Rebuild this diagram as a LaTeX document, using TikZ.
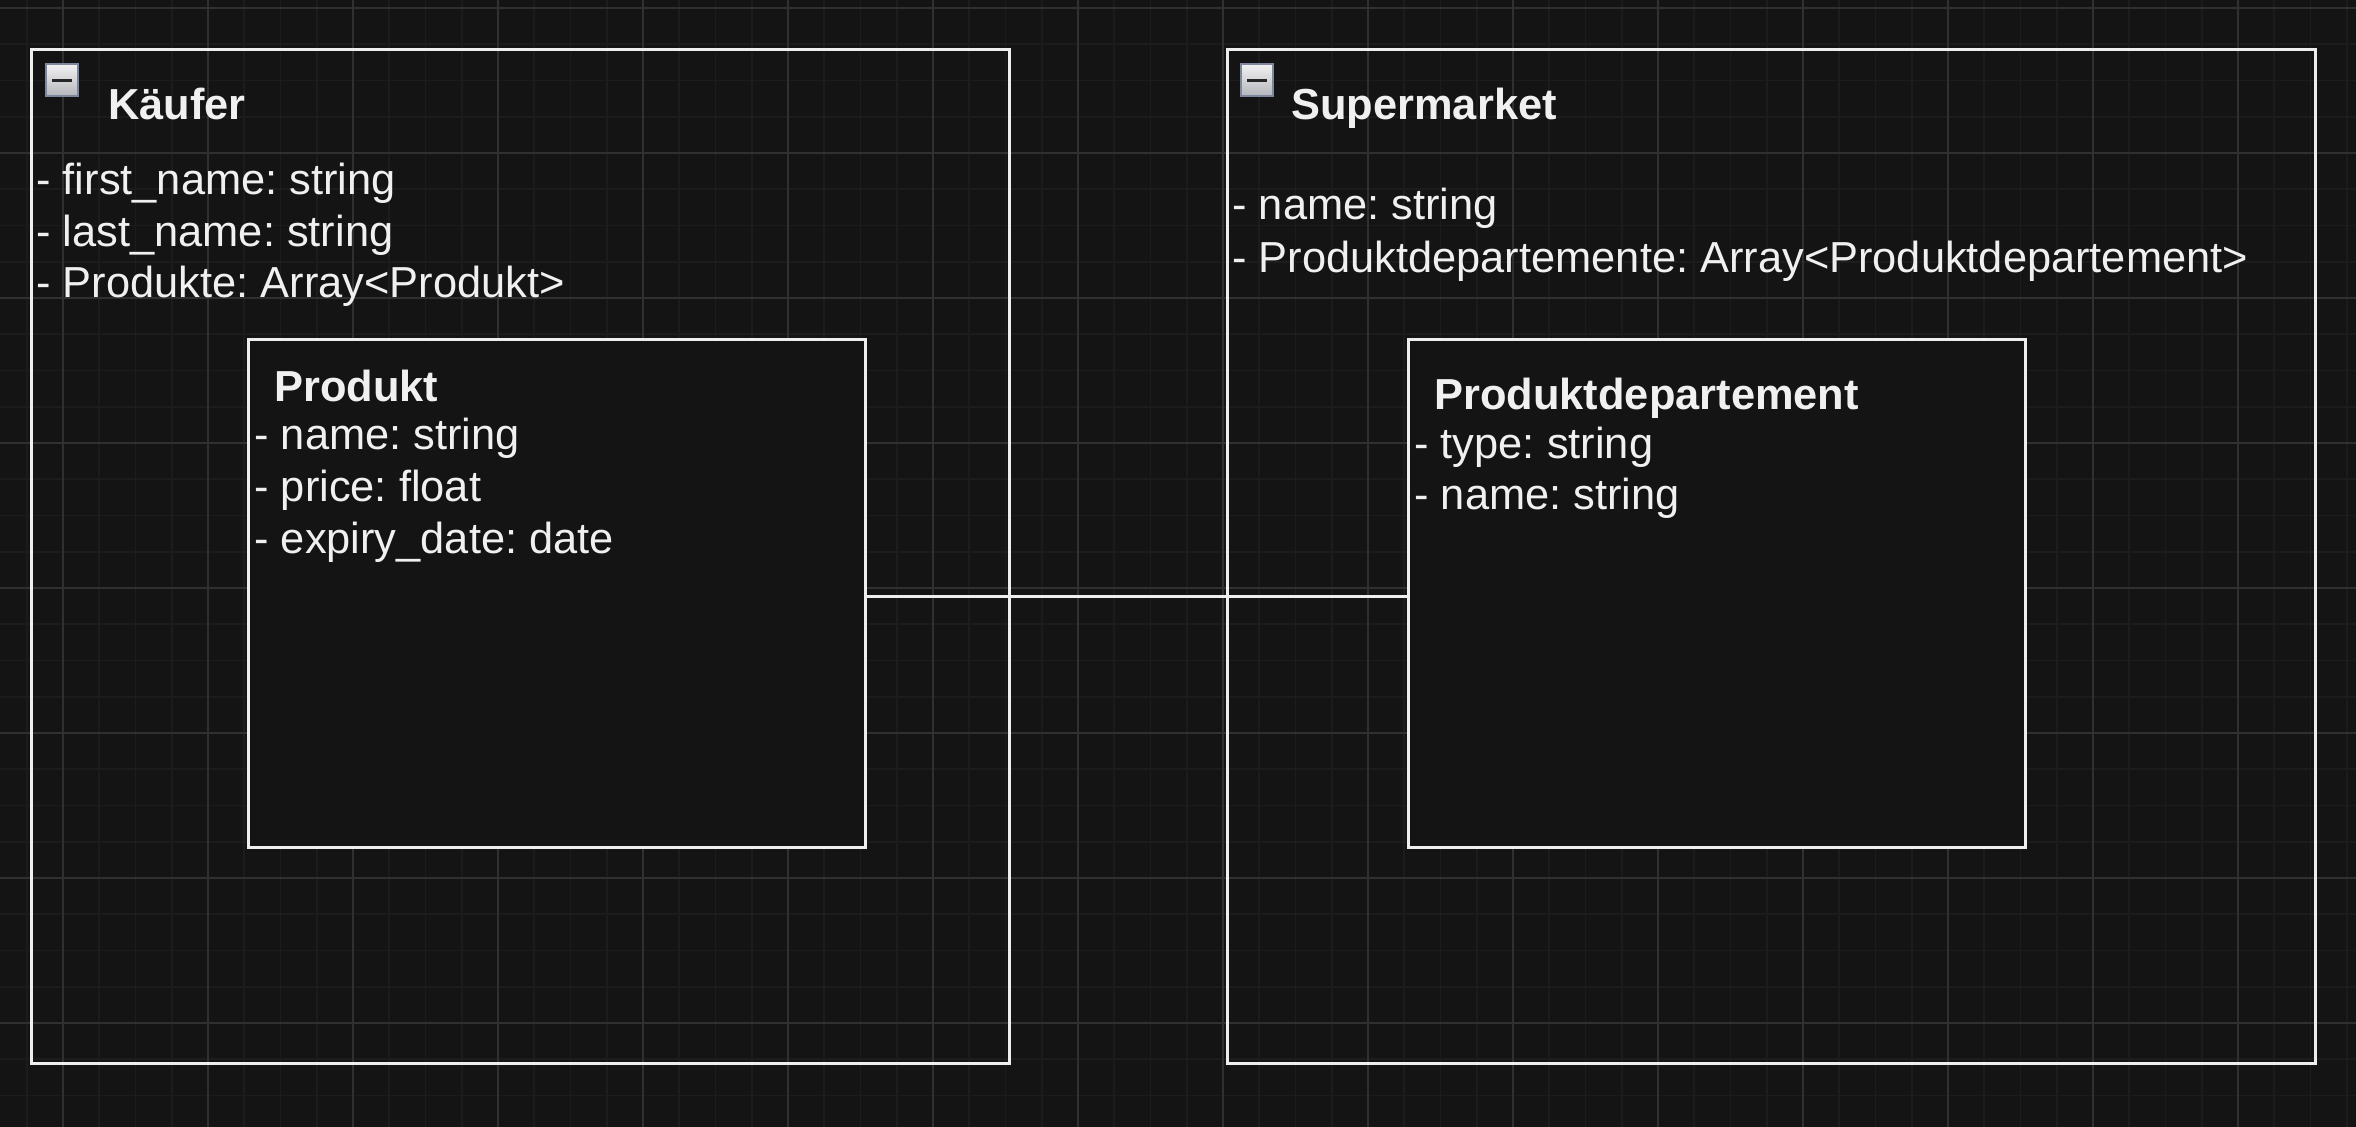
\documentclass[tikz,border=0pt]{standalone}
\usepackage{fontspec}
\setmainfont{Liberation Sans}
\begin{document}
\frenchspacing
\begin{tikzpicture}[x=0.5pt,y=-0.5pt,
  minorline/.style={draw=minorcol,line width=0.9pt},
  majorline/.style={draw=majorcol,line width=0.7pt},
  outerbox/.style={draw=strokecol,line width=1.5pt,rectangle,inner sep=0pt,anchor=north west},
  innerbox/.style={draw=strokecol,fill=bgcol,line width=1.5pt,rectangle,inner sep=0pt,anchor=north west},
  ttl/.style={text=textcol,inner sep=0pt,anchor=base west,font=\fontsize{21.7}{26}\selectfont\bfseries},
  attr/.style={text=textcol,inner sep=0pt,anchor=base west,font=\fontsize{21.7}{26}\selectfont},
  conn/.style={draw=strokecol,line width=1.5pt}
]
\definecolor{bgcol}{HTML}{141414}
\definecolor{minorcol}{HTML}{1C1C1C}
\definecolor{majorcol}{HTML}{303030}
\definecolor{strokecol}{HTML}{EEEEEE}
\definecolor{textcol}{HTML}{F0F0F0}
\definecolor{iconborder}{HTML}{7F879D}
\definecolor{icontop}{HTML}{F2F2F2}
\definecolor{iconbot}{HTML}{B4B6BC}

\useasboundingbox (0,0) rectangle (2356,1127);
\fill[bgcol] (0,0) rectangle (2356,1127);

% grid
\foreach \i in {-1,...,63} {\draw[minorline] ({63+36.25*\i},0) -- ({63+36.25*\i},1127);}
\foreach \i in {0,...,30} {\draw[minorline] (0,{8+36.25*\i}) -- (2356,{8+36.25*\i});}
\foreach \i in {0,...,15} {\draw[majorline] ({63+145*\i},0) -- ({63+145*\i},1127);}
\foreach \i in {0,...,7} {\draw[majorline] (0,{8+145*\i}) -- (2356,{8+145*\i});}

% containers
\node[outerbox,minimum width=489pt,minimum height=507pt] (kaeufer) at (30,48) {};
\node[outerbox,minimum width=544pt,minimum height=507pt] (supermarket) at (1226,48) {};

% collapse icons
\shade[top color=icontop,bottom color=iconbot,draw=iconborder,line width=1pt] (46,64) rectangle (78,96);
\draw[black!85,line width=1.8pt] (52,80.5) -- (72,80.5);
\shade[top color=icontop,bottom color=iconbot,draw=iconborder,line width=1pt] (1241,64) rectangle (1273,96);
\draw[black!85,line width=1.8pt] (1247,80.5) -- (1267,80.5);

% container texts
\node[ttl] (kaeuferT) at (108,120) {Käufer};
\node[attr] (kA1) at (36,195) {- first\_name: string};
\node[attr] (kA2) at (36,247) {- last\_name: string};
\node[attr] (kA3) at (36,298) {- Produkte: Array<Produkt>};

\node[ttl] (supermarketT) at (1291,120) {Supermarket};
\node[attr] (sA1) at (1232,220) {- name: string};
\node[attr] (sA2) at (1232,273) {- Produktdepartemente: Array<Produktdepartement>};

% inner classes
\node[innerbox,minimum width=308.5pt,minimum height=254pt] (produkt) at (247,338) {};
\node[innerbox,minimum width=308.5pt,minimum height=254pt] (dept) at (1407,338) {};

\node[ttl] (produktT) at (274,402) {Produkt};
\node[attr] (pA1) at (254,450) {- name: string};
\node[attr] (pA2) at (254,502) {- price: float};
\node[attr] (pA3) at (254,554) {- expiry\_date: date};

\node[ttl] (deptT) at (1434,410) {Produktdepartement};
\node[attr] (dA1) at (1414,459) {- type: string};
\node[attr] (dA2) at (1414,510) {- name: string};

% connector
\draw[conn] ([yshift=-1.5pt]produkt.east) -- ([yshift=-1.5pt]dept.west);
\end{tikzpicture}
\end{document}
